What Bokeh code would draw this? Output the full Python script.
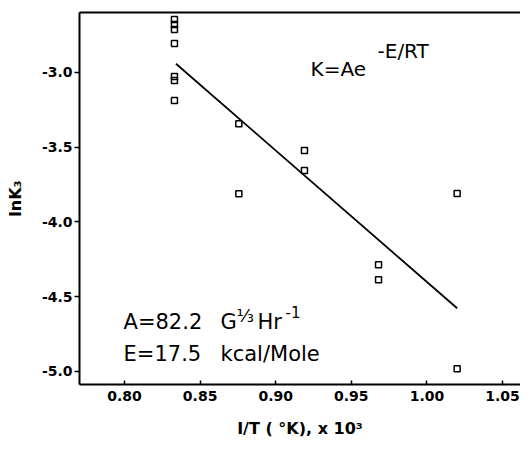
from bokeh.plotting import figure
from bokeh.models import Range1d, LinearAxis, Label, FixedTicker
from bokeh.embed import file_html
from bokeh.resources import INLINE

# ---- data ----
x_a = [0.833] * 7
y_a = [-2.646, -2.679, -2.713, -2.806, -3.027, -3.053, -3.187]
x_b = [0.8756, 0.8756]
y_b = [-3.343, -3.811]
x_c = [0.919, 0.919]
y_c = [-3.522, -3.656]
x_d = [0.968, 0.968]
y_d = [-4.286, -4.387]
x_e = [1.020, 1.020]
y_e = [-3.810, -4.982]

fit_x = [0.834, 1.020]
fit_y = [-2.942, -4.577]

x_ticks = [0.80, 0.85, 0.90, 0.95, 1.00, 1.05]
y_ticks = [-3.0, -3.5, -4.0, -4.5, -5.0]

xs = x_a + x_b + x_c + x_d + x_e
ys = y_a + y_b + y_c + y_d + y_e

FONT = "DejaVu Sans"

p = figure(width=520, height=442, output_backend="svg", toolbar_location=None,
           x_range=Range1d(0.7702, 1.0619), y_range=Range1d(-5.087, -2.599),
           min_border_left=79, min_border_right=0, min_border_top=12, min_border_bottom=58,
           x_axis_label="I/T ( °K), x 10³", y_axis_label="lnK₃")
p.outline_line_color = None
p.grid.visible = False
p.background_fill_color = "white"
p.border_fill_color = "white"

for ax in (p.xaxis[0], p.yaxis[0]):
    ax.axis_line_width = 2
    ax.axis_line_color = "black"
    ax.major_tick_line_color = "black"
    ax.major_tick_line_width = 1.5
    ax.minor_tick_line_color = None
    ax.major_label_text_font = FONT
    ax.major_label_text_font_style = "bold"
    ax.major_label_text_font_size = "14px"
    ax.major_label_text_color = "black"
    ax.axis_label_text_font = FONT
    ax.axis_label_text_font_style = "bold"
    ax.axis_label_text_font_size = "16px"
    ax.axis_label_text_color = "black"

p.xaxis[0].ticker = FixedTicker(ticks=x_ticks)
p.xaxis[0].major_label_overrides = {t: f"{t:.2f}" for t in x_ticks}
p.xaxis[0].major_tick_in = 4
p.xaxis[0].major_tick_out = 0
p.xaxis[0].major_label_standoff = 6
p.xaxis[0].axis_label_standoff = 15

p.yaxis[0].ticker = FixedTicker(ticks=y_ticks)
p.yaxis[0].major_label_overrides = {t: f"{t:.1f}" for t in y_ticks}
p.yaxis[0].major_tick_in = 0
p.yaxis[0].major_tick_out = 5
p.yaxis[0].major_label_standoff = 2
p.yaxis[0].axis_label_standoff = 14

top = LinearAxis(ticker=FixedTicker(ticks=[]), axis_line_width=2, axis_line_color="black",
                 major_tick_line_color=None, minor_tick_line_color=None,
                 major_label_text_font_size="0px", major_label_standoff=0,
                 major_tick_out=0, major_tick_in=0)
p.add_layout(top, "above")

p.scatter(xs, ys, marker="square", size=6, fill_color=None,
          line_color="black", line_width=1.5)
p.line(fit_x, fit_y, line_color="black", line_width=1.8)

# helpers converting reference pixel positions to data coordinates (for text placement)
def dx(px):
    return 0.80 + (px - 124) / 1512.0

def dy(py):
    return -3.0 - (py - 72) / 149.5

def txt(s, px, py, size):
    p.add_layout(Label(x=dx(px), y=dy(py), text=s, text_font=FONT,
                       text_font_size=size, text_color="black",
                       text_align="left", text_baseline="alphabetic"))

txt("K=Ae", 310, 69, "20px")
txt("-E/RT", 377, 51, "20px")
txt("A=82.2", 123, 322, "21px")
txt("G", 220, 322, "21px")
txt("⅓", 236, 315, "18px")
txt("Hr", 257, 322, "21px")
txt("-1", 285, 312, "15px")
txt("E=17.5", 123, 354, "21px")
txt("kcal/Mole", 220, 354, "21px")

open("out.html", "w").write(file_html(p, INLINE))
